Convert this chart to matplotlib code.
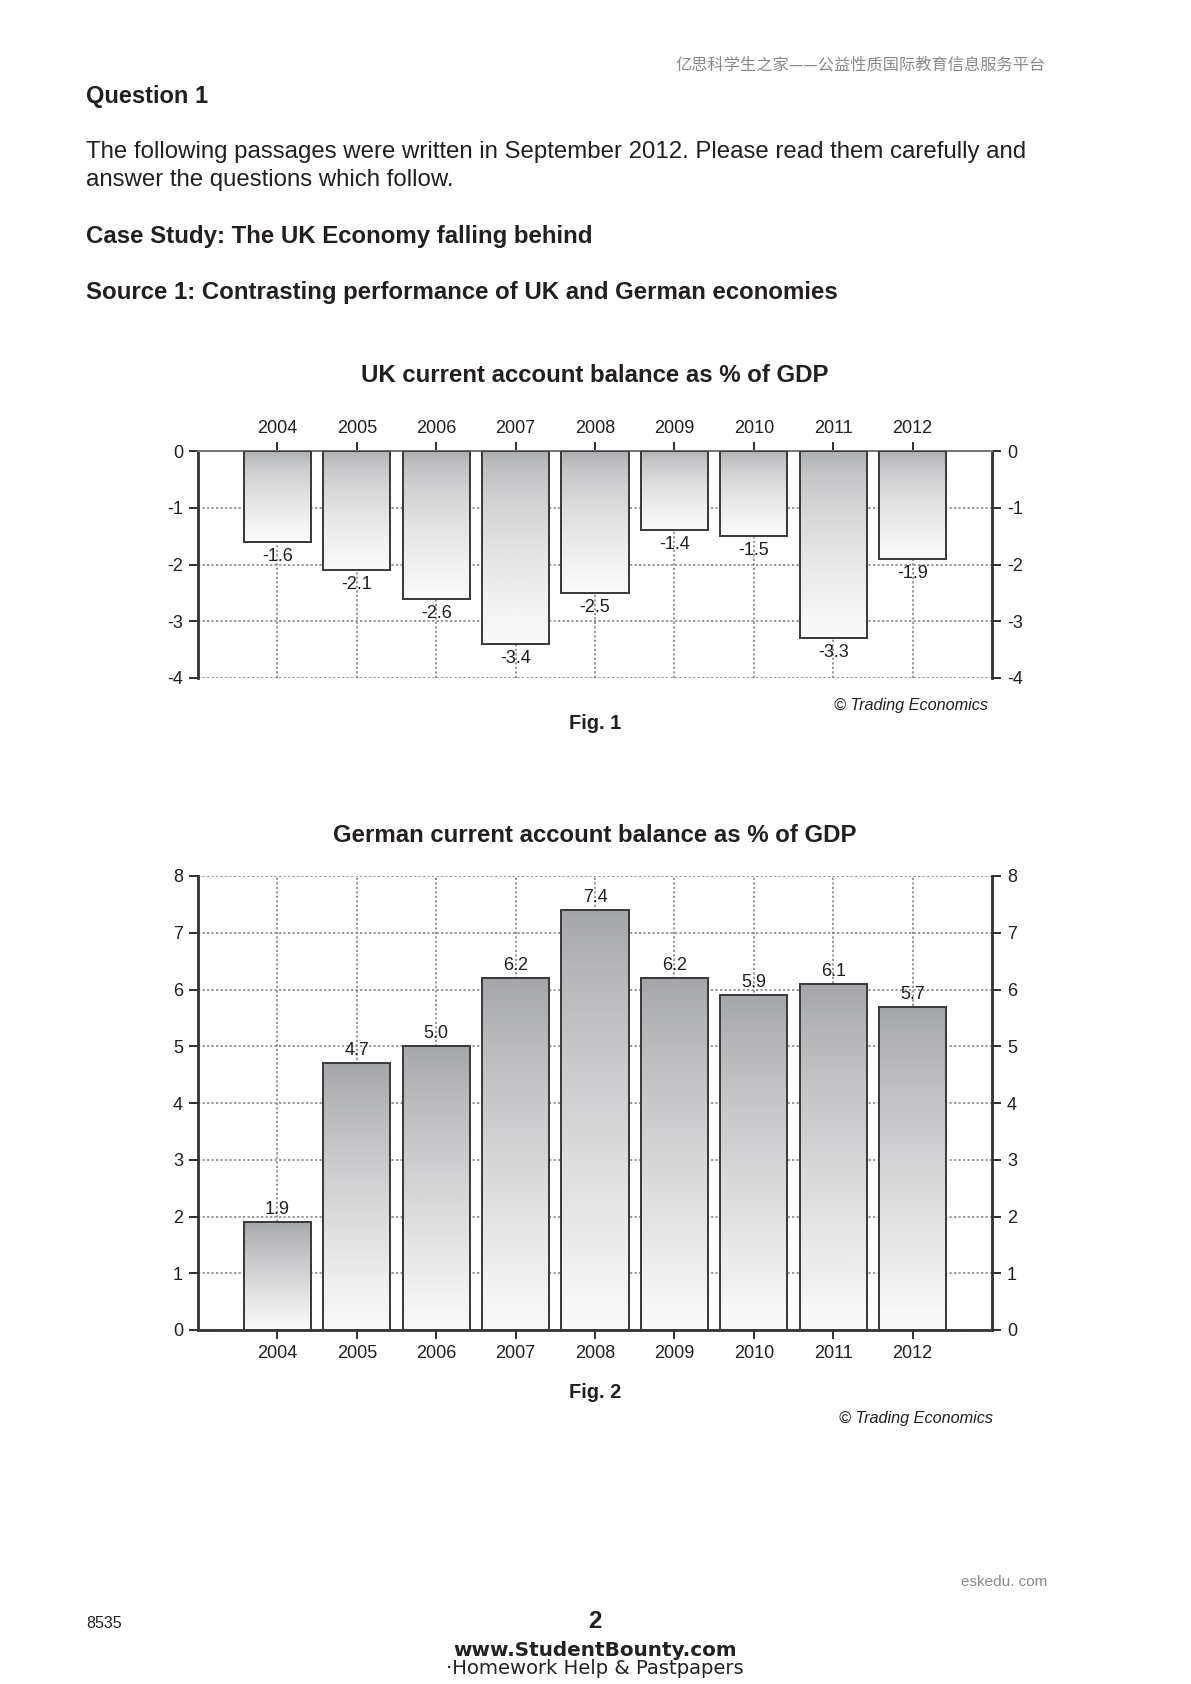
import numpy as np
import matplotlib
matplotlib.use("Agg")
import matplotlib.pyplot as plt
from matplotlib.colors import LinearSegmentedColormap

plt.rcParams['font.family'] = ['Liberation Sans', 'DejaVu Sans']
plt.rcParams['axes.unicode_minus'] = False

years = [2004, 2005, 2006, 2007, 2008, 2009, 2010, 2011, 2012]
uk_balance = [-1.6, -2.1, -2.6, -3.4, -2.5, -1.4, -1.5, -3.3, -1.9]
de_balance = [1.9, 4.7, 5.0, 6.2, 7.4, 6.2, 5.9, 6.1, 5.7]
uk_ticks = [0, -1, -2, -3, -4]
de_ticks = [0, 1, 2, 3, 4, 5, 6, 7, 8]

W, H = 1191, 1684
TXT = '#231f20'
grad_cmap = LinearSegmentedColormap.from_list('bar', ['#a5a6a9', '#fbfbfb'])

fig = plt.figure(figsize=(W / 144, H / 144), dpi=144)


def put(x, y, s, **kw):
    kw.setdefault('color', TXT)
    kw.setdefault('va', 'center')
    fig.text(x / W, 1 - y / H, s, **kw)


def axes_px(x0, y0, x1, y1):
    return fig.add_axes([x0 / W, 1 - y1 / H, (x1 - x0) / W, (y1 - y0) / H])


def gradient_bars(ax, vals, gamma):
    bars = ax.bar(years, vals, width=0.845, color='none', edgecolor='#3c3c3c',
                  linewidth=1.0, zorder=3)
    g = np.linspace(0, 1, 256) ** gamma
    g = g.reshape(-1, 1)
    for b in bars:
        x0 = b.get_x()
        y0, y1 = sorted([b.get_y(), b.get_y() + b.get_height()])
        ax.imshow(g, cmap=grad_cmap, extent=[x0, x0 + b.get_width(), y0, y1],
                  origin='upper', aspect='auto', zorder=2, interpolation='bilinear')
    return bars


def style(ax, ticks, ylim):
    ax.set_xlim(2003, 2013)
    ax.set_ylim(*ylim)
    ax.set_yticks(ticks)
    ax.set_xticks(years)
    ax.grid(True, color='#7a7a7a', linestyle=(0, (1.5, 1.5)), linewidth=0.75, zorder=0)
    ax.set_axisbelow(True)
    for s in ['left', 'right']:
        ax.spines[s].set_color('#333333')
        ax.spines[s].set_linewidth(1.4)
    ax.tick_params(axis='y', left=True, right=True, labelleft=True, labelright=True,
                   direction='out', length=4.5, width=1.0, color='#333333',
                   labelsize=9, labelcolor=TXT, pad=3)


# UK chart
ax1 = axes_px(198, 451, 992, 678)
gradient_bars(ax1, uk_balance, 0.5)
style(ax1, uk_ticks, (-4, 0))
ax1.spines['bottom'].set_visible(False)
ax1.spines['top'].set_color('#777777')
ax1.spines['top'].set_linewidth(1.0)
ax1.tick_params(axis='x', top=True, bottom=False, labeltop=True, labelbottom=False,
                direction='out', length=4.5, width=1.0, color='#333333',
                labelsize=9, labelcolor=TXT, pad=2.5)
for x, v in zip(years, uk_balance):
    ax1.annotate(f'{v:.1f}', (x, v), xytext=(0, -3), textcoords='offset points',
                 ha='center', va='top', fontsize=9, color=TXT, zorder=4)

# German chart
ax2 = axes_px(198, 876, 992, 1330)
gradient_bars(ax2, de_balance, 0.85)
style(ax2, de_ticks, (0, 8))
ax2.spines['top'].set_visible(False)
ax2.spines['bottom'].set_color('#333333')
ax2.spines['bottom'].set_linewidth(1.4)
ax2.tick_params(axis='x', direction='out', length=4.5, width=1.0, color='#333333',
                labelsize=9, labelcolor=TXT, pad=3)
for x, v in zip(years, de_balance):
    ax2.annotate(f'{v:.1f}', (x, v), xytext=(0, 2), textcoords='offset points',
                 ha='center', va='bottom', fontsize=9, color=TXT, zorder=4)

# page text
put(1046, 65, '亿思科学生之家——公益性质国际教育信息服务平台', ha='right', fontsize=8.1,
    color='#8a8a8a', family=['Noto Sans CJK SC', 'DejaVu Sans'])
put(86, 96, 'Question 1', fontsize=11.8, fontweight='bold')
put(86, 152, 'The following passages were written in September 2012. Please read them carefully and',
    fontsize=12)
put(86, 180, 'answer the questions which follow.', fontsize=12)
put(86, 236, 'Case Study: The UK Economy falling behind', fontsize=12, fontweight='bold')
put(86, 292, 'Source 1: Contrasting performance of UK and German economies', fontsize=12,
    fontweight='bold')

put(595, 376, 'UK current account balance as % of GDP', ha='center', fontsize=12,
    fontweight='bold')
put(988, 706, '© Trading Economics', ha='right', fontsize=8.1, style='italic')
put(595, 723, 'Fig. 1', ha='center', fontsize=10, fontweight='bold')

put(595, 835, 'German current account balance as % of GDP', ha='center', fontsize=12,
    fontweight='bold')
put(595, 1393, 'Fig. 2', ha='center', fontsize=10, fontweight='bold')
put(993, 1419, '© Trading Economics', ha='right', fontsize=8.1, style='italic')

put(1047, 1582, 'eskedu. com', ha='right', fontsize=7.6, color='#8a8a8a')
put(86, 1623, '8535', fontsize=8)
put(595, 1621, '2', ha='center', fontsize=12, fontweight='bold')
put(595, 1650, 'www.StudentBounty.com', ha='center', fontsize=10, fontweight='bold',
    family='DejaVu Sans', color='#222222')
put(595, 1669, '·Homework Help & Pastpapers', ha='center', fontsize=9.8,
    family='DejaVu Sans', color='#222222')

fig.savefig('out.png', dpi=144)
